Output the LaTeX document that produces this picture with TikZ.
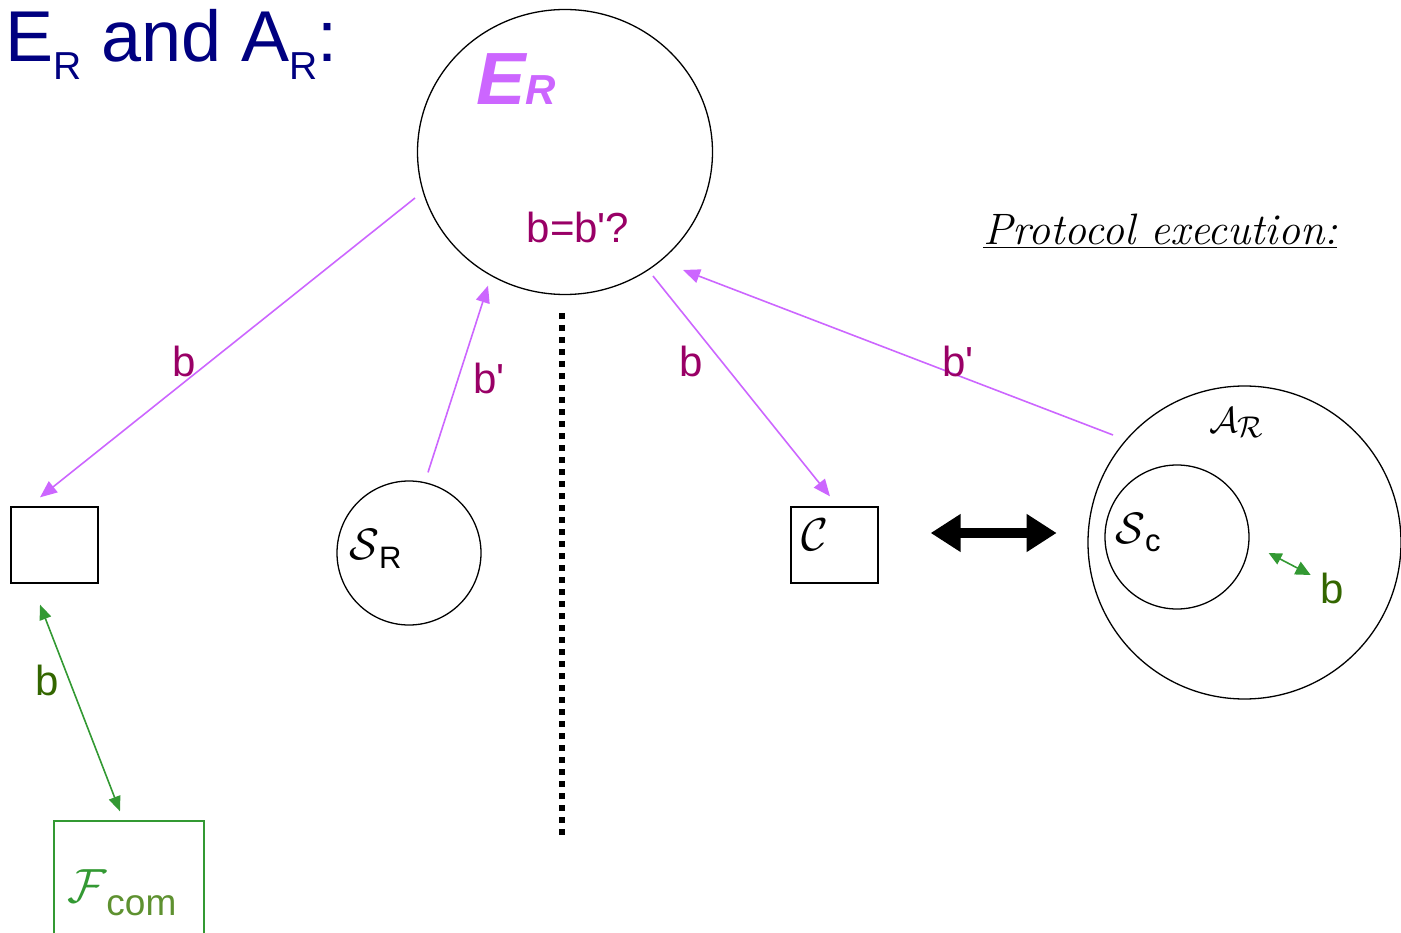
\documentclass[tikz,border=0pt]{standalone}
\usepackage{fix-cm}
\usepackage{fontspec}
\setmainfont{Liberation Sans}
\newfontfamily\protofont{Latin Modern Roman}
\usetikzlibrary{arrows.meta, calc, shapes.geometric}
\definecolor{cTitle}{HTML}{000080}
\definecolor{cEnv}{HTML}{CC66FF}
\definecolor{cMsg}{HTML}{990066}
\definecolor{cIdeal}{HTML}{339933}
\definecolor{cBit}{HTML}{336600}
\definecolor{cCom}{HTML}{5E9130}
% calligraphic letter with a sans subscript
\newcommand{\calsub}[4]{$\mathcal{#1}$\raisebox{-#4}{\fontsize{#3}{#3}\selectfont #2}}
\newcommand{\bprime}{b\textquotesingle}
\tikzset{
  party/.style={draw=black, line width=1.3pt, inner sep=0pt},
  partybox/.style={party, rectangle, minimum width=87pt, minimum height=76pt},
  partycirc/.style={party, circle, minimum size=144pt},
  msg/.style={-{Triangle[length=17pt, width=14pt]}, line width=1.6pt, draw=cEnv},
  bitlink/.style={{Triangle[length=15pt, width=12pt]}-{Triangle[length=15pt, width=12pt]},
    line width=1.6pt, draw=cIdeal},
  swap/.style={{Triangle[length=30pt, width=36pt]}-{Triangle[length=30pt, width=36pt]},
    line width=10pt, draw=black},
  msglabel/.style={font=\fontsize{42}{46}\selectfont, text=cMsg, inner sep=0pt, anchor=base},
  bitlabel/.style={font=\fontsize{42}{46}\selectfont, text=cBit, inner sep=0pt, anchor=base},
  calname/.style={font=\fontsize{44}{48}\selectfont, inner sep=0pt, anchor=base west},
}

\begin{document}
\begin{tikzpicture}[x=1pt, y=-1pt]
  \useasboundingbox (0,0) rectangle (1401,933);

  % ----------------------------------------------------------------
  % Headings
  % ----------------------------------------------------------------
  \node[anchor=base west, inner sep=0pt, text=cTitle, font=\fontsize{72}{80}\selectfont] (title) at (5,62)
    {E\raisebox{-18pt}{\fontsize{39}{40}\selectfont R} and A\raisebox{-18pt}{\fontsize{39}{40}\selectfont R}:};
  \node[anchor=base west, inner sep=0pt, font=\protofont\itshape\fontsize{44}{50}\selectfont] (proto) at (983,245)
    {\underline{Protocol execution:}};

  % ----------------------------------------------------------------
  % Environment
  % ----------------------------------------------------------------
  \node[party, ellipse, minimum width=295pt, minimum height=285pt] (er) at (565,152) {};
  \node[anchor=base west, inner sep=0pt, text=cEnv, font=\bfseries\itshape\fontsize{74}{80}\selectfont] (ername) at (476,105)
    {E{\fontsize{42}{44}\selectfont R}};
  \node[msglabel] (guess) at (578,243) {b=\bprime?};

  % ----------------------------------------------------------------
  % Ideal world (left)
  % ----------------------------------------------------------------
  \node[partybox] (boxl) at (54.5,545) {};
  \node[partycirc] (sr) at (409,553) {};
  \node[calname] (srname) at (349,559) {\calsub{S}{R}{31}{9pt}};
  \node[draw=cIdeal, line width=1.3pt, minimum width=150pt, minimum height=130pt, inner sep=0pt] (fcom) at (129,886) {};
  \node[anchor=base west, inner sep=0pt, text=cIdeal, font=\fontsize{48}{50}\selectfont] (fcomname) at (67,902)
    {$\mathcal{F}$\raisebox{-13pt}{\color{cCom}\fontsize{37}{40}\selectfont com}};

  % ----------------------------------------------------------------
  % Real world (right)
  % ----------------------------------------------------------------
  \node[partybox] (boxc) at (834.5,545) {};
  \node[calname, font=\fontsize{46}{50}\selectfont] (cname) at (801,550) {$\mathcal{C}$};
  \node[party, circle, minimum size=313pt] (ar) at (1244.5,542.5) {};
  \node[calname, font=\fontsize{36}{40}\selectfont] (arname) at (1209,432)
    {$\mathcal{A}$\raisebox{-5pt}{\fontsize{30}{34}\selectfont$\mathcal{R}$}};
  \node[partycirc] (sc) at (1177,537) {};
  \node[calname] (scname) at (1115,543) {\calsub{S}{c}{31}{8pt}};

  % dotted separator
  \coordinate (septop) at (562,313);
  \coordinate (sepbot) at (562,840);
  \draw[line width=6pt, dash pattern=on 6pt off 6pt] (septop) -- (sepbot);

  % ----------------------------------------------------------------
  % Arrows
  % ----------------------------------------------------------------
  \draw[msg] ($(er.center)+(-150,46)$) -- ($(boxl.north)+(-14.5,-9)$);
  \draw[msg] ($(sr.north)+(19,-8)$) -- ($(er.south)+(-77,-9.5)$);
  \draw[msg] ($(er.center)+(88,124)$) -- ($(boxc.north)+(-4.5,-10)$);
  \draw[msg] ($(ar.center)+(-131.5,-107.5)$) -- ($(er.center)+(118,118)$);
  \draw[bitlink] ($(boxl.south)+(-14.5,21)$) -- ($(fcom.north)+(-9,-9)$);
  \draw[bitlink, {Triangle[length=13pt, width=12pt]}-{Triangle[length=15pt, width=14pt]}]
    ($(sc.east)+(19,16)$) -- ($(sc.east)+(61,38)$);
  \draw[swap] ($(boxc.east)+(52,-12)$) -- ($(boxc.east)+(178,-12)$);

  \node[msglabel] (lblb1) at (184,377) {b};
  \node[msglabel] (lblb2) at (489,393) {\bprime};
  \node[msglabel] (lblb3) at (691,377) {b};
  \node[msglabel] (lblb4) at (958,377) {\bprime};
  \node[bitlabel] (lblb5) at (47,695) {b};
  \node[bitlabel] (lblb6) at (1332,603) {b};

\end{tikzpicture}
\end{document}
